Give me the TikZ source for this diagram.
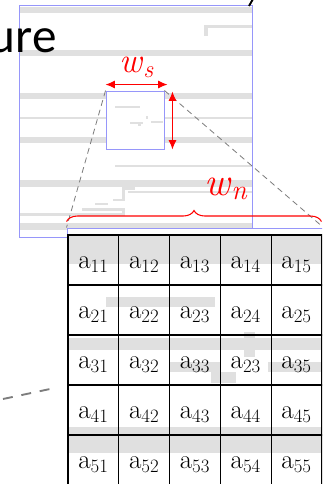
\documentclass[tikz,border=0pt]{standalone}
\usepackage{fontspec}
\newfontfamily\titlefont{Carlito}
\usetikzlibrary{arrows.meta,decorations.pathreplacing}

\definecolor{panelblue}{RGB}{150,150,250}
\definecolor{bargray}{RGB}{224,224,224}
\definecolor{zoomgray}{RGB}{125,125,125}

\tikzset{
  panel/.style={draw=panelblue, line width=0.8pt, inner sep=0pt},
  greybar/.style={fill=bargray},
  cell/.style={draw, line width=0.9pt, inner sep=0pt, minimum width=1.524cm, minimum height=1.5cm,
    text height=0.48cm, text depth=0pt, font=\fontsize{23}{27}\selectfont},
  zoomline/.style={zoomgray, line width=0.7pt, dash pattern=on 5pt off 3.5pt},
  dimarrow/.style={red, line width=0.9pt, {Latex[length=0.28cm,width=0.24cm]}-{Latex[length=0.28cm,width=0.24cm]}},
}

\begin{document}
\begin{tikzpicture}[x=0.03cm, y=-0.03cm]
\clip (0,0) rectangle (322,484);

% overview panel with its grey rows
\foreach \ya/\yb in {7/13, 50/56, 93/99, 117/119, 137/143, 180/187, 223/230}
  \fill[greybar] (19,\ya) rectangle (252,\yb);
\fill[greybar] (115,165) rectangle (252,167);
\fill[greybar] (128,191) rectangle (252,193);
\fill[greybar] (19,213) rectangle (125,216);
\fill[greybar] (204,25) rectangle (252,28);
\fill[greybar] (204,25) rectangle (208,36);
\fill[greybar] (122,187) rectangle (135,190);
\fill[greybar] (122,188) rectangle (125,201);
\fill[greybar] (113,199) rectangle (125,201);
\fill[greybar] (95,203) rectangle (108,205);
\fill[greybar] (82,208) rectangle (122,211);
\fill[greybar] (122,208) rectangle (125,216);
\node[panel, minimum width=6.99cm, minimum height=6.96cm] (overview) at (135.5,121) {};

% sliding window
\node[panel, fill=white, minimum width=1.74cm, minimum height=1.74cm] (win) at (135,120) {};
\fill[greybar] (115,106) rectangle (140,108);
\fill[greybar] (130,122) rectangle (143,124);
\fill[greybar] (138,124) rectangle (141,126);
\fill[greybar] (146,116) rectangle (148,119);
\fill[greybar] (151,121) rectangle (163,123);

\node[font=\titlefont\fontsize{42}{48}\selectfont, anchor=base east, inner sep=0pt] (title) at (57,53) {ure};
\draw[line width=1.6pt] (253,-1) -- (249,6);

% enlarged window
\node[panel, fill=white, minimum width=7.68cm, minimum height=7.68cm] (zoombox) at (195,356) {};
\fill[greybar] (68,235) rectangle (322,264);
\fill[greybar] (106,297) rectangle (215,307);
\fill[greybar] (68,338) rectangle (322,350);
\fill[greybar] (244,332) rectangle (255,357);
\fill[greybar] (170,362) rectangle (221,372);
\fill[greybar] (211,372) rectangle (236,383);
\fill[greybar] (268,362) rectangle (322,372);
\fill[greybar] (68,427) rectangle (322,453);

\foreach \lbl [count=\i from 0] in {11,12,13,14,15,21,22,23,24,25,31,32,33,23,35,41,42,43,44,45,51,52,53,54,55} {
  \pgfmathtruncatemacro{\rowno}{\i/5}
  \pgfmathtruncatemacro{\colno}{mod(\i,5)}
  \node[cell] (c\rowno\colno) at ({93.4+50.8*\colno},{260+50*\rowno}) {a\textsubscript{\lbl}};
}

\draw[zoomline] (win.north west) -- (zoombox.north west);
\draw[zoomline] (win.north east) -- (zoombox.north east);
\coordinate (tailA) at (3,399);
\coordinate (tailB) at (50,389);
\draw[zoomgray, line width=1.6pt, dash pattern=on 8.5pt off 7.5pt] (tailA) -- (tailB);

% window sizes
\draw[dimarrow] ([yshift=0.18cm]win.north west) -- ([xshift=0.09cm,yshift=0.18cm]win.north east);
\node[red, font=\fontsize{30}{34}\selectfont, anchor=base west, inner sep=0pt] (ws) at (119,73) {\textit{w}\textsubscript{\textit{s}}};
\draw[dimarrow] ([xshift=0.24cm,yshift=-0.03cm]win.north east) -- ([xshift=0.24cm]win.south east);
\draw[red, line width=0.9pt, decorate, decoration={brace, amplitude=0.33cm}]
  ([yshift=0.18cm]zoombox.north west) -- ([xshift=-0.06cm,yshift=0.18cm]zoombox.north east);
\node[red, font=\fontsize{34}{38}\selectfont, anchor=base west, inner sep=0pt] (wn) at (204,195) {\textit{w}\textsubscript{\textit{n}}};
\end{tikzpicture}
\end{document}
